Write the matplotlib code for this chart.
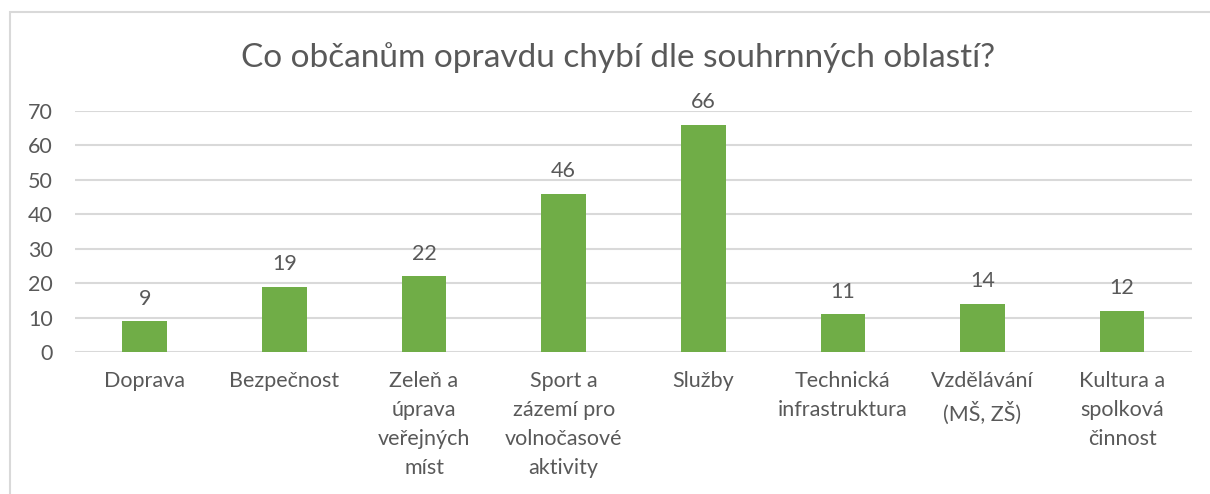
#!/usr/bin/env python3
"""Bar chart: Co občanům opravdu chybí dle souhrnných oblastí?"""

import matplotlib
matplotlib.use("Agg")
import matplotlib.pyplot as plt
from matplotlib.patches import Rectangle

categories = [
    "Doprava",
    "Bezpečnost",
    "Zeleň a\núprava\nveřejných\nmíst",
    "Sport a\nzázemí pro\nvolnočasové\naktivity",
    "Služby",
    "Technická\ninfrastruktura",
    "Vzdělávání\n(MŠ, ZŠ)",
    "Kultura a\nspolková\nčinnost",
]
values = [9, 19, 22, 46, 66, 11, 14, 12]
y_ticks = [0, 10, 20, 30, 40, 50, 60, 70]

TEXT = "#595959"
GRID = "#D9D9D9"
BAR = "#70AD47"

plt.rcParams["font.family"] = ["Lato", "DejaVu Sans"]

fig = plt.figure(figsize=(12.10, 4.94), dpi=100)
ax = fig.add_axes([0.062, 0.2874, 0.923, 0.4879])

# outer chart frame (cropped on right and bottom)
fig.patches.append(Rectangle((10 / 1210, -0.2), 1.2, 1.2 - 12 / 494,
                             transform=fig.transFigure, fill=False,
                             edgecolor=GRID, linewidth=1.5))

x = range(len(categories))
ax.bar(x, values, width=0.32, color=BAR, zorder=3)
for xi, v in zip(x, values):
    ax.annotate(str(v), (xi, v), xytext=(0, 9), textcoords="offset points",
                ha="center", va="bottom", fontsize=15.5, color=TEXT)

ax.set_xlim(-0.5, len(categories) - 0.5)
ax.set_ylim(0, 70)
ax.set_yticks(y_ticks)
ax.set_xticks(list(x))
ax.set_xticklabels(categories, fontsize=15.5, color=TEXT, linespacing=1.55, va="top")
ax.tick_params(axis="y", labelsize=15.5, labelcolor=TEXT, length=0, pad=16)
ax.tick_params(axis="x", length=0, pad=14)

ax.yaxis.grid(True, color=GRID, linewidth=1.5, zorder=0)
for s in ax.spines.values():
    s.set_visible(False)
ax.set_facecolor("none")

fig.text(0.511, 0.883, "Co občanům opravdu chybí dle souhrnných oblastí?",
         ha="center", va="center", fontsize=24, color=TEXT)

fig.savefig("out.png", dpi=100)
